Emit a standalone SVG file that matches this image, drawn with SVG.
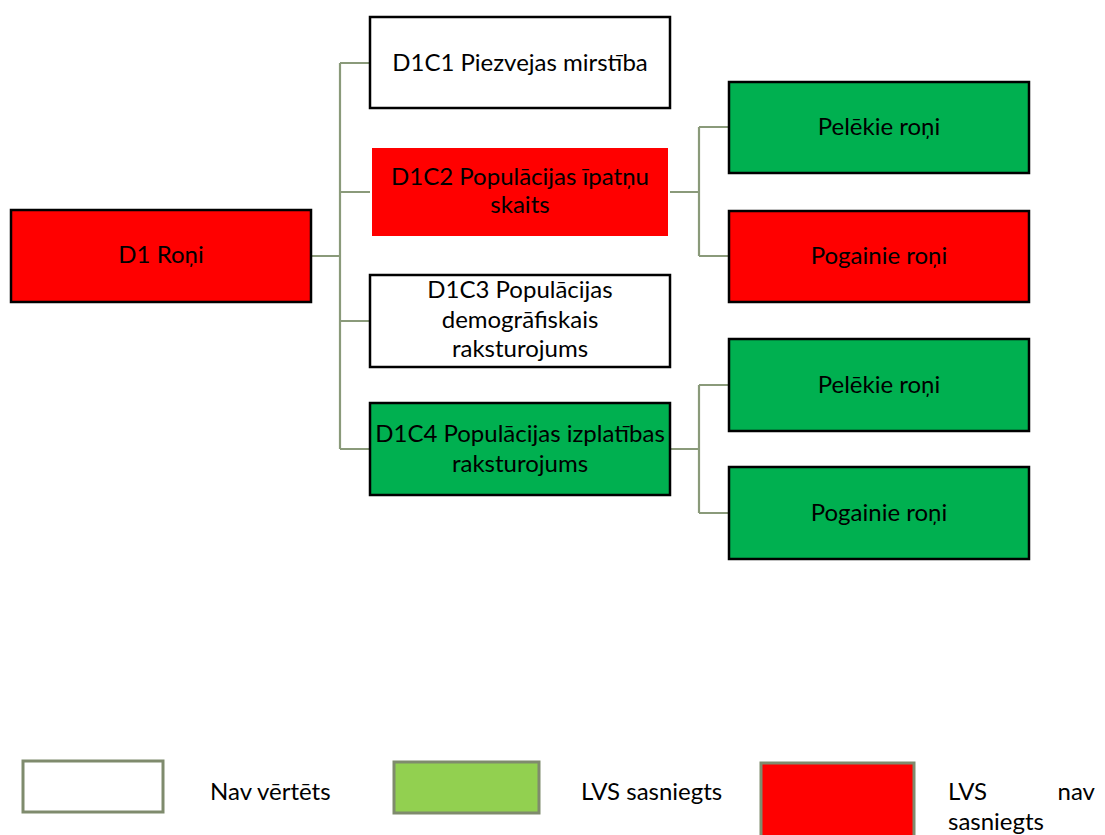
<svg xmlns="http://www.w3.org/2000/svg" width="1105" height="835" viewBox="0 0 1105 835">
<style>
.box{stroke:#000;stroke-width:2.5}
.red{fill:#ff0000}
.green{fill:#00b050}
.white{fill:#ffffff}
.lg{stroke:#7f8b6d;stroke-width:3}
.conn{fill:none;stroke:#8a9a7a;stroke-width:2.2}
text{font-family:Lato,"Liberation Sans",sans-serif;font-size:24px;fill:#000}
.c{text-anchor:middle}
</style>
<rect width="1105" height="835" fill="#fff"/>
<g id="connectors">
<path class="conn" d="M311,256H340M340,63V449M340,63H370M340,192H370M340,321H370M340,449H370"/>
<path class="conn" d="M670,192H699M699,127V256M699,127H729M699,256H729"/>
<path class="conn" d="M670,449H699M699,385V513M699,385H729M699,513H729"/>
</g>
<g id="d1">
<rect class="box red" x="11" y="210" width="300" height="92"/>
<text class="c" x="161" y="263">D1 Roņi</text>
</g>
<g id="d1c1">
<rect class="box white" x="370" y="17" width="300" height="91"/>
<text class="c" x="520" y="71">D1C1 Piezvejas mirstība</text>
</g>
<g id="d1c2">
<rect class="red" x="372" y="148" width="296" height="88"/>
<text class="c" x="520" y="185">D1C2 Populācijas īpatņu</text>
<text class="c" x="520" y="213">skaits</text>
</g>
<g id="d1c3">
<rect class="box white" x="370" y="275" width="300" height="92"/>
<text class="c" x="520" y="298">D1C3 Populācijas</text>
<text class="c" x="520" y="328">demogrāfiskais</text>
<text class="c" x="520" y="357">raksturojums</text>
</g>
<g id="d1c4">
<rect class="box green" x="370" y="403" width="300" height="92"/>
<text class="c" x="520" y="442">D1C4 Populācijas izplatības</text>
<text class="c" x="520" y="472">raksturojums</text>
</g>
<g id="pel1">
<rect class="box green" x="729" y="82" width="300" height="91"/>
<text class="c" x="879" y="135">Pelēkie roņi</text>
</g>
<g id="pog1">
<rect class="box red" x="729" y="211" width="300" height="91"/>
<text class="c" x="879" y="264">Pogainie roņi</text>
</g>
<g id="pel2">
<rect class="box green" x="729" y="339" width="300" height="92"/>
<text class="c" x="879" y="393">Pelēkie roņi</text>
</g>
<g id="pog2">
<rect class="box green" x="729" y="467" width="300" height="92"/>
<text class="c" x="879" y="521">Pogainie roņi</text>
</g>
<g id="legend">
<rect class="lg" x="23" y="761" width="140" height="51" fill="#fff"/>
<text x="210" y="800">Nav vērtēts</text>
<rect class="lg" x="394" y="762" width="145" height="51" fill="#92d050"/>
<text x="581" y="800">LVS sasniegts</text>
<rect class="lg" x="761" y="763" width="153" height="74" fill="#ff0000"/>
<text y="800"><tspan x="948">LVS</tspan><tspan x="1095" text-anchor="end">nav</tspan></text>
<text x="948" y="830">sasniegts</text>
</g>
</svg>
